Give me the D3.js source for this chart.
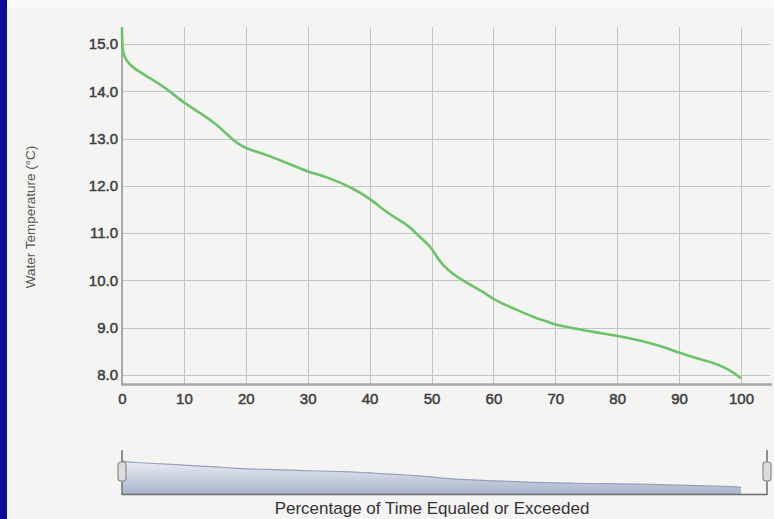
<!DOCTYPE html>
<html>
<head>
<meta charset="utf-8">
<script src="https://cdn.jsdelivr.net/npm/d3@7"></script>
<style>
  body { margin: 0; background: #f4f4f2; }
  svg { display: block; font-family: "Liberation Sans", Arial, Helvetica, sans-serif; }
</style>
</head>
<body>
<script>
// percent of time equaled or exceeded, and the water temperature (°C)
const pct = [0, 0.05, 0.3, 0.8, 1.8, 4.5, 7.2, 10, 12.7, 15.4, 17, 18.6, 20, 23.5, 26.1, 28.8, 30, 33.5, 37, 40,
             43.3, 46.3, 47.7, 50, 50.9, 52.5, 55.7, 58.4, 60, 63.8, 66.5, 69.2, 70, 72.9, 75.6, 80, 83.7, 86.9,
             90, 92.9, 95.6, 97.7, 99, 100]
const temp = [15.35, 14.88, 14.76, 14.63, 14.49, 14.28, 14.06, 13.75, 13.54, 13.29, 13.08, 12.90, 12.79, 12.65, 12.51,
              12.37, 12.30, 12.17, 11.97, 11.74, 11.38, 11.17, 10.96, 10.71, 10.47, 10.22, 9.94, 9.76, 9.59, 9.38,
              9.22, 9.11, 9.06, 8.99, 8.92, 8.83, 8.73, 8.62, 8.47, 8.35, 8.26, 8.14, 8.03, 7.93]
const xTicks = [0, 10, 20, 30, 40, 50, 60, 70, 80, 90, 100]
const yTicks = [8, 9, 10, 11, 12, 13, 14, 15]

const data = pct.map((p, i) => ({p: p, t: temp[i]}))

const width = 774, height = 519

const svg = d3.select("body").append("svg")
    .attr("width", width)
    .attr("height", height)

svg.append("rect").attr("width", width).attr("height", height).attr("fill", "#f4f4f2")
svg.append("rect").attr("width", width).attr("height", 8).attr("fill", "#f8f8f7")
svg.append("rect").attr("width", 7).attr("height", height).attr("fill", "#0e0b98")

const x = d3.scaleLinear().domain([0, 100]).range([122, 741])
const y = d3.scaleLinear().domain([8, 15]).range([375, 44])
const plotTop = y(15.36), plotBottom = 384.5

// grid
const grid = svg.append("g").attr("stroke", "#c4c4c4").attr("stroke-width", 1)
grid.selectAll("line.h").data(yTicks).enter().append("line")
    .attr("x1", x(0)).attr("x2", 770)
    .attr("y1", d => Math.round(y(d)) + 0.5).attr("y2", d => Math.round(y(d)) + 0.5)
grid.selectAll("line.v").data(xTicks.slice(1)).enter().append("line")
    .attr("x1", d => Math.round(x(d)) + 0.5).attr("x2", d => Math.round(x(d)) + 0.5)
    .attr("y1", plotTop).attr("y2", plotBottom)

// axes
const xAxis = svg.append("g")
    .attr("transform", `translate(0,${plotBottom})`)
    .call(d3.axisBottom(x).tickValues(xTicks).tickSize(0).tickPadding(9).tickFormat(d3.format("d")))
xAxis.select(".domain").remove()
xAxis.append("line").attr("x1", x(0)).attr("x2", 772).attr("stroke", "#a8a8a8").attr("stroke-width", 2.5)

const yAxis = svg.append("g")
    .attr("transform", `translate(${x(0)},0)`)
    .call(d3.axisLeft(y).tickValues(yTicks).tickSize(0).tickPadding(4).tickFormat(d3.format(".1f")))
yAxis.select(".domain").remove()
yAxis.append("line").attr("y1", plotTop).attr("y2", plotBottom + 1).attr("stroke", "#a8a8a8").attr("stroke-width", 2)

svg.selectAll(".tick text")
    .attr("font-size", "15px")
    .attr("fill", "#3e3e3e")
    .attr("stroke", "#3e3e3e").attr("stroke-width", 0.5)
    .attr("font-family", "\"Liberation Sans\", Arial, sans-serif")

// the curve
svg.append("path")
    .datum(data)
    .attr("fill", "none")
    .attr("stroke", "#6cc36a")
    .attr("stroke-width", 2.6)
    .attr("stroke-linejoin", "round")
    .attr("d", d3.line().x(d => x(d.p)).y(d => y(d.t)).curve(d3.curveBasis))

svg.append("text")
    .attr("transform", "translate(35,217) rotate(-90)")
    .attr("text-anchor", "middle")
    .attr("font-size", "13.5px")
    .attr("fill", "#555")
    .text("Water Temperature (°C)")

// overview strip below
const my = d3.scaleLinear().domain([6, 15.4]).range([494.5, 459])
const defs = svg.append("defs")
const grad = defs.append("linearGradient").attr("id", "fade").attr("x1", 0).attr("x2", 0).attr("y1", 0).attr("y2", 1)
grad.append("stop").attr("offset", "0%").attr("stop-color", "#eef0f6")
grad.append("stop").attr("offset", "100%").attr("stop-color", "#a9b2ca")

svg.append("path")
    .datum(data)
    .attr("fill", "url(#fade)")
    .attr("stroke", "none")
    .attr("d", d3.area().x(d => x(d.p)).y0(494.5).y1(d => my(d.t)).curve(d3.curveBasis))
svg.append("path")
    .datum(data)
    .attr("fill", "none")
    .attr("stroke", "#96a0ba")
    .attr("stroke-width", 1.2)
    .attr("d", d3.line().x(d => x(d.p)).y(d => my(d.t)).curve(d3.curveBasis))

const frame = svg.append("g").attr("stroke", "#6e6e6e").attr("stroke-width", 1.5).attr("fill", "none")
frame.append("line").attr("x1", x(0)).attr("x2", 767).attr("y1", 494.5).attr("y2", 494.5)
frame.append("line").attr("x1", x(0)).attr("x2", x(0)).attr("y1", 450).attr("y2", 495)
frame.append("line").attr("x1", 767).attr("x2", 767).attr("y1", 450).attr("y2", 495)

svg.selectAll("rect.handle").data([x(0), 767]).enter().append("rect")
    .attr("class", "handle")
    .attr("x", d => d - 4).attr("y", 462)
    .attr("width", 8).attr("height", 19)
    .attr("rx", 3)
    .attr("fill", "#dcdcdc").attr("stroke", "#8a8a8a").attr("stroke-width", 1.2)

svg.append("text")
    .attr("x", 432)
    .attr("y", 514)
    .attr("text-anchor", "middle")
    .attr("font-size", "17px")
    .attr("fill", "#333")
    .text("Percentage of Time Equaled or Exceeded")
</script>
</body>
</html>
